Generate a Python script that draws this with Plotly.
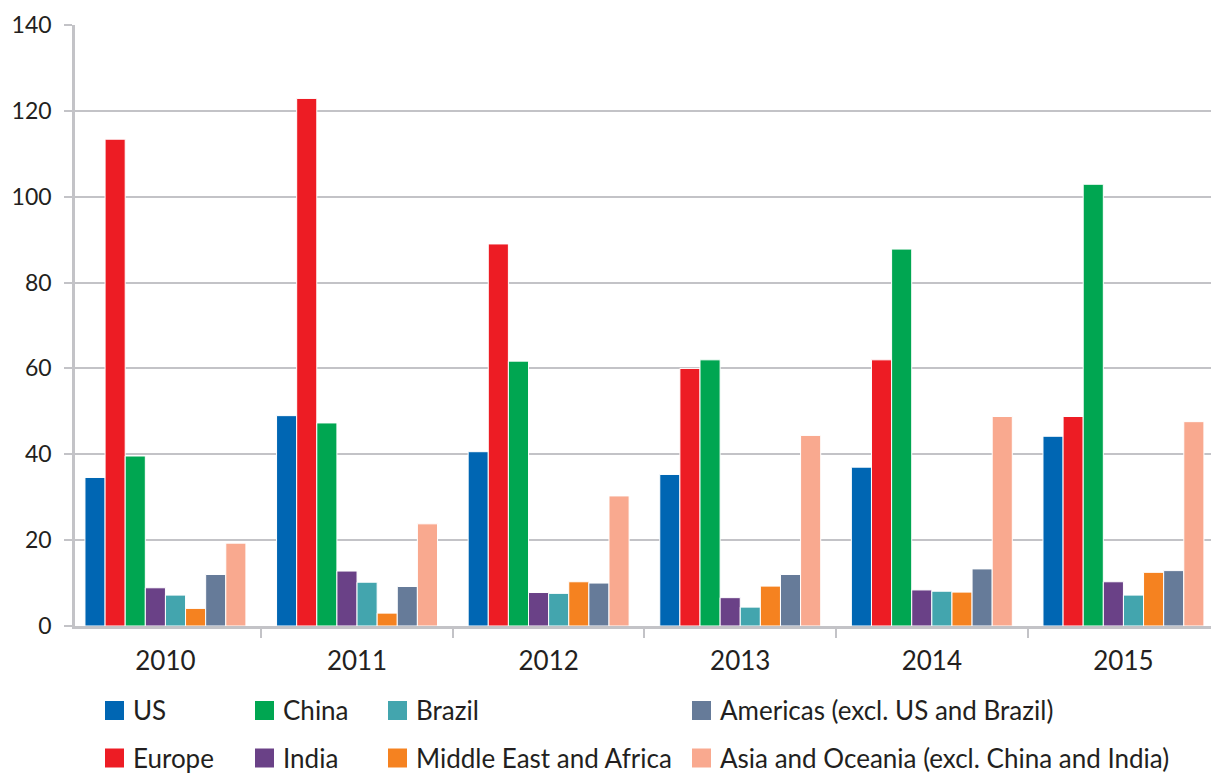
import plotly.graph_objects as go

# Annual values by region, 2010-2015
years = ["2010", "2011", "2012", "2013", "2014", "2015"]

us = [34.6, 49.0, 40.6, 35.3, 37.0, 44.2]
europe = [113.4, 122.9, 89.0, 60.0, 62.0, 48.8]
china = [39.6, 47.3, 61.7, 62.0, 87.8, 102.9]
india = [8.9, 12.8, 7.8, 6.6, 8.4, 10.3]
brazil = [7.2, 10.2, 7.6, 4.4, 8.1, 7.2]
mea = [4.1, 3.0, 10.3, 9.3, 7.9, 12.5]
americas = [12.0, 9.2, 10.0, 12.0, 13.3, 12.9]
asia = [19.3, 23.8, 30.3, 44.4, 48.8, 47.6]

y_ticks = [0, 20, 40, 60, 80, 100, 120, 140]

series = [
    ("US", us, "#0066b3"),
    ("Europe", europe, "#ed1c24"),
    ("China", china, "#00a651"),
    ("India", india, "#6a4187"),
    ("Brazil", brazil, "#43a5ae"),
    ("Middle East and Africa", mea, "#f58220"),
    ("Americas (excl. US and Brazil)", americas, "#667b99"),
    ("Asia and Oceania (excl. China and India)", asia, "#f9a98f"),
]

FONT = "Lato"
TEXT = "#231f20"
GRID = "#c3c3c7"

W, H = 1211, 775
ML, MR, MT, MB = 75, 0, 25, 149

fig = go.Figure()
for name, vals, color in series:
    fig.add_trace(go.Bar(
        x=years, y=vals, name=name,
        marker=dict(color=color, line=dict(color="white", width=1)),
        showlegend=False,
    ))

# Legend laid out in two rows, column-major, below the axis
legend_cols_px = [(105, 133), (255, 283), (388, 416), (692, 720)]
legend_rows_px = [710.5, 758]
sq = 19
pw, ph = W - ML - MR, H - MT - MB


def px_to_paper_x(px):
    return (px - ML) / pw


def px_to_paper_y(py):
    return (H - MB - py) / ph


legend_order = ["US", "Europe", "China", "India", "Brazil",
                "Middle East and Africa", "Americas (excl. US and Brazil)",
                "Asia and Oceania (excl. China and India)"]
colors = {n: c for n, _, c in series}
for i, name in enumerate(legend_order):
    col, row = divmod(i, 2)
    sx, tx = legend_cols_px[col]
    cy = legend_rows_px[row]
    fig.add_shape(type="rect", xref="paper", yref="paper",
                  x0=px_to_paper_x(sx), x1=px_to_paper_x(sx + sq),
                  y0=px_to_paper_y(cy + sq / 2), y1=px_to_paper_y(cy - sq / 2),
                  fillcolor=colors[name], line=dict(width=0))
    fig.add_annotation(xref="paper", yref="paper",
                       x=px_to_paper_x(tx - 2), y=px_to_paper_y(cy),
                       xanchor="left", yanchor="middle", showarrow=False,
                       text=name, font=dict(family=FONT, size=26, color=TEXT))

fig.update_layout(
    width=W, height=H,
    margin=dict(l=ML, r=MR, t=MT, b=MB, pad=0),
    paper_bgcolor="white", plot_bgcolor="white",
    barmode="group", bargap=0.16, bargroupgap=0,
    font=dict(family=FONT, color=TEXT),
)
fig.update_xaxes(
    type="category", range=[-0.472, 5.457],
    showline=True, linecolor=GRID, linewidth=2.5,
    ticks="outside", tickson="boundaries", ticklen=9, tickwidth=2, tickcolor=GRID,
    tickfont=dict(family=FONT, size=26, color=TEXT),
    ticklabelstandoff=10,
    showgrid=False,
)
fig.update_yaxes(
    range=[0, 140], tickvals=y_ticks,
    showline=True, linecolor=GRID, linewidth=2.5,
    ticks="outside", ticklen=8, tickwidth=2, tickcolor=GRID,
    tickfont=dict(family=FONT, size=23, color=TEXT),
    ticklabelstandoff=8,
    showgrid=True, gridcolor=GRID, gridwidth=1.5,
    zeroline=False,
)

fig.write_html("out.html")
